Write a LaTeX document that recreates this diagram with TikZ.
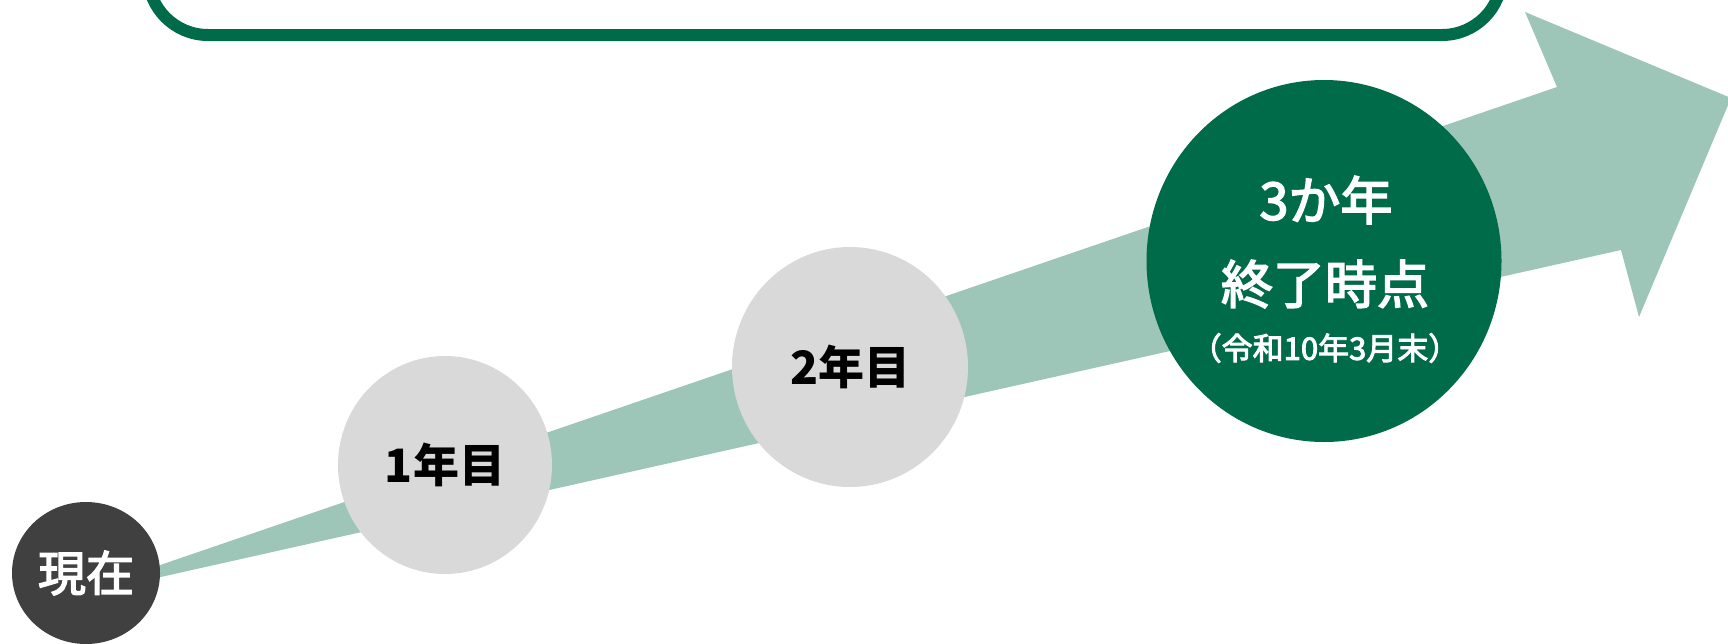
\documentclass[tikz,border=0pt]{standalone}
\usepackage{fontspec}
\setmainfont{Noto Sans CJK JP}
\newfontfamily\medfont[FakeBold=3]{Noto Sans CJK JP}
\usetikzlibrary{shapes.geometric}
\definecolor{band}{HTML}{9DC5B8}
\definecolor{dgreen}{HTML}{006B48}
\definecolor{lgray}{HTML}{D9D9D9}
\definecolor{dgray}{HTML}{404040}
\tikzset{
  stage/.style={ellipse, inner sep=0pt, font=\fontsize{46}{46}\selectfont\bfseries},
  whitetext/.style={text=white, inner sep=0pt},
}
\begin{document}
\begin{tikzpicture}[x=1pt,y=-1pt]
\useasboundingbox (0,0) rectangle (1728,643);
% big rising arrow
\fill[band] (58,600) -- (1557,87) -- (1525,12) -- (1731,98) -- (1639,317) -- (1621,250) -- cycle;
% top box (cropped)
\draw[dgreen, line width=12pt, rounded corners=60pt] (148,-200) rectangle (1502,35);
% stages
\node[stage, fill=dgray, text=white, minimum width=148pt, minimum height=142pt, font=\fontsize{48}{48}\medfont] (now) at (86,573) {現在};
\node[stage, fill=lgray, minimum width=214pt, minimum height=218pt] (y1) at (445,465) {1年目};
\node[stage, fill=lgray, minimum width=236pt, minimum height=240pt] (y2) at (850,367) {2年目};
\node[stage, fill=dgreen, minimum width=355pt, minimum height=362pt] (y3) at (1324,261) {};
\node[whitetext, font=\fontsize{52}{52}\medfont] (y3a) at (1326,200) {3か年};
\node[whitetext, font=\fontsize{52}{52}\medfont] (y3b) at (1325,284) {終了時点};
\node[whitetext, font=\fontsize{31}{31}\medfont] (y3c) at (1325,348) {（令和10年3月末）};
\end{tikzpicture}
\end{document}
